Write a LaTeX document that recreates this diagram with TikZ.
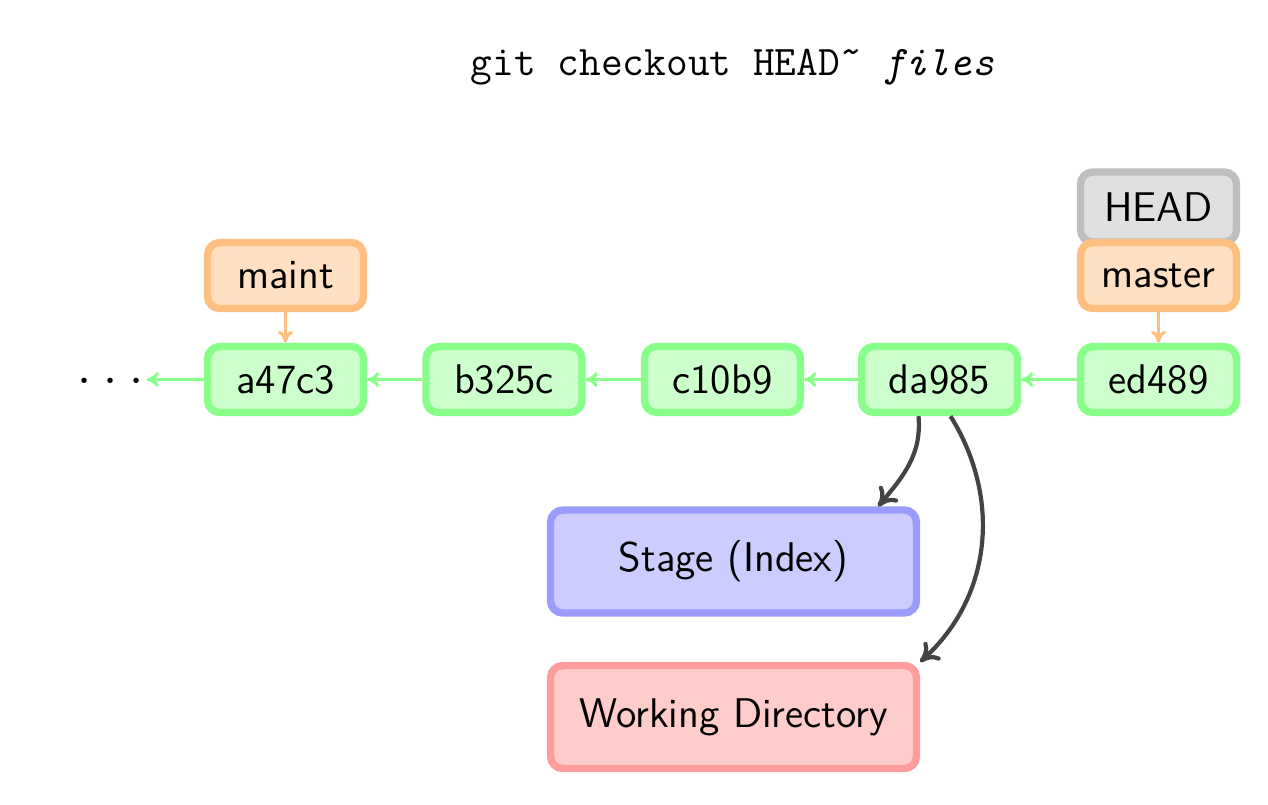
\documentclass[tikz,border=0pt]{standalone}
\usepackage{fontspec}
\usetikzlibrary{arrows.meta}

\definecolor{commitline}{HTML}{88FF88}
\definecolor{commitfill}{HTML}{CCFFCC}
\definecolor{branchline}{HTML}{FFBF80}
\definecolor{branchfill}{HTML}{FFE0C2}
\definecolor{headline}{HTML}{BFBFBF}
\definecolor{headfill}{HTML}{E0E0E0}
\definecolor{stageline}{HTML}{9C9CFF}
\definecolor{stagefill}{HTML}{CCCCFF}
\definecolor{workline}{HTML}{FF9C9C}
\definecolor{workfill}{HTML}{FFCCCC}
\definecolor{copyline}{HTML}{444444}

\tikzset{
  box/.style={rounded corners=3.5pt, line width=2.1pt, inner sep=0pt,
    font=\sffamily\fontsize{11.8}{14}\selectfont},
  commit/.style={box, draw=commitline, fill=commitfill,
    minimum width=1.56cm, minimum height=0.66cm},
  branch/.style={box, draw=branchline, fill=branchfill,
    minimum width=1.56cm, minimum height=0.66cm},
  headref/.style={box, draw=headline, fill=headfill,
    minimum width=1.56cm, minimum height=0.70cm},
  area/.style={box, minimum width=3.66cm, minimum height=1.03cm},
  parent/.style={draw=commitline, line width=0.9pt, -{To[length=1.2mm,width=1.5mm]}},
  points/.style={draw=branchline, line width=0.9pt, -{To[length=1.2mm,width=1.5mm]}},
  copies/.style={draw=copyline, line width=1.2pt, -{To[length=1.8mm,width=2.4mm]}}
}

\begin{document}
\begin{tikzpicture}
  \useasboundingbox (0,0) rectangle (12.68,-8.04);
  \node[font=\ttfamily\fontsize{12}{14}\selectfont] (title) at (7.325,-0.67)
    {git checkout HEAD\char"02DC{} \textit{files}};

  % commits
  \node[font=\fontsize{14}{16}\selectfont, inner sep=0pt] (dots) at (1.11,-3.82)
    {$\cdot$\hspace{3.4pt}$\cdot$\hspace{3.4pt}$\cdot$};
  \foreach \id/\x in {a47c3/2.855, b325c/5.04, c10b9/7.225, da985/9.395, ed489/11.585}
    \node[commit] (\id) at (\x,-3.795) {\id};
  \foreach \from/\to in {ed489/da985, da985/c10b9, c10b9/b325c, b325c/a47c3}
    \draw[parent] (\from) -- (\to);
  \draw[parent] (a47c3) -- ([xshift=0.2mm]dots.east |- a47c3);

  % refs
  \node[headref] (head) at (11.585,-2.07) {HEAD};
  \node[branch] (master) at (11.585,-2.755) {master};
  \node[branch] (maint) at (2.855,-2.755) {maint};
  \draw[points] (maint) -- (a47c3);
  \draw[points] (master) -- (ed489);

  % stage and working directory
  \node[area, draw=stageline, fill=stagefill] (stage) at (7.335,-5.615) {Stage (Index)};
  \node[area, draw=workline, fill=workfill] (work) at (7.335,-7.17) {Working Directory};
  \draw[copies] ([xshift=-2.1mm]da985.south) to[out=-85,in=50] ([xshift=-4.2mm]stage.north east);
  \draw[copies] ([xshift=1.1mm]da985.south) to[out=-58,in=42] (work.north east);
\end{tikzpicture}
\end{document}
